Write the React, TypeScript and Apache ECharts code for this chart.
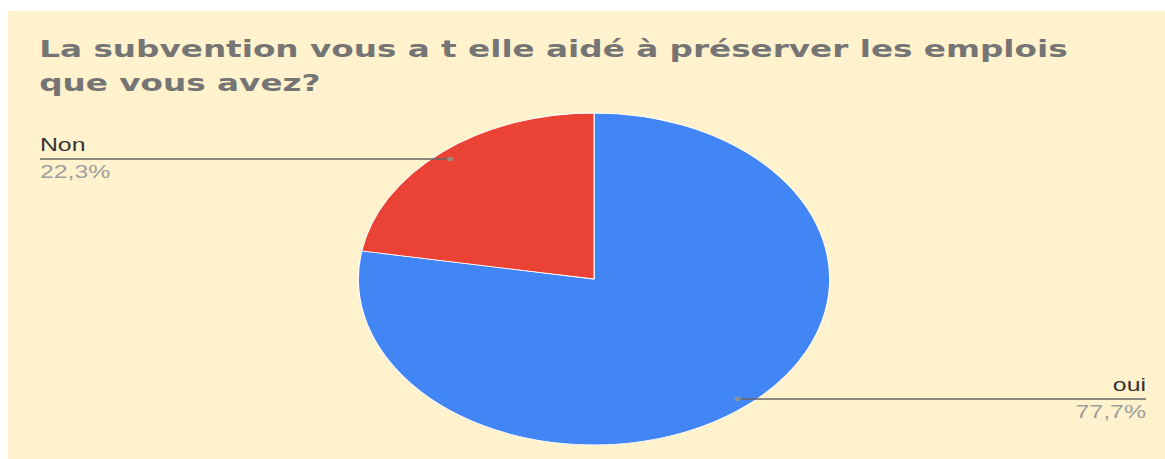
import React, { useEffect, useRef } from "react";
import * as echarts from "echarts";

const TITLE_LINES = ["La subvention vous a t elle aidé à préserver les emplois", "que vous avez?"];
const CATEGORIES = ["oui", "Non"];
const VALUES = [77.7, 22.3];
const COLORS = ["#4285F4", "#EA4335"];

const OUT_W = 1157;
const OUT_H = 448;
const INNER_W = 815;
const SX = OUT_W / INNER_W;

export default function App() {
  const ref = useRef<HTMLDivElement>(null);
  useEffect(() => {
    if (!ref.current) return;
    const chart = echarts.init(ref.current, undefined, { renderer: "svg" });
    const cx = 412.8;
    const cy = 268;
    const R = 166;
    const RL = 157;
    const EDGE_L = 22.5;
    const EDGE_R = 801.6;
    const total = VALUES.reduce((a, b) => a + b, 0);
    const mids: number[] = [];
    let acc = 0;
    VALUES.forEach((v) => {
      mids.push(((acc + v / 2) / total) * 100);
      acc += v;
    });
    const pieData = CATEGORIES.map((c, i) => ({ name: c, value: VALUES[i] }));
    chart.setOption({
      animation: false,
      backgroundColor: "#FFF2CC",
      title: {
        text: TITLE_LINES.join("\n"),
        left: 22,
        top: 21,
        padding: 0,
        textStyle: {
          fontFamily: "DejaVu Sans",
          fontWeight: "bold",
          fontSize: 23,
          lineHeight: 34,
          color: "#757575",
        },
      },
      polar: { center: [cx, cy], radius: R },
      angleAxis: { type: "value", min: 0, max: 100, startAngle: 90, clockwise: true, show: false },
      radiusAxis: { type: "value", min: 0, max: 1, show: false },
      series: [
        {
          type: "pie",
          center: [cx, cy],
          radius: R,
          startAngle: 90,
          clockwise: true,
          silent: true,
          data: pieData.map((d, i) => ({ ...d, itemStyle: { color: COLORS[i] } })),
          itemStyle: { borderColor: "#ffffff", borderWidth: 0.8 },
          label: { show: false },
          labelLine: { show: false },
          z: 1,
        },
        {
          type: "pie",
          center: [cx, cy],
          radius: RL,
          startAngle: 90,
          clockwise: true,
          silent: true,
          data: pieData,
          itemStyle: { color: "rgba(0,0,0,0)" },
          label: {
            show: true,
            position: "outside",
            formatter: (p: any) =>
              `{n|${p.name}}\n{v|${Number(p.value).toFixed(1).replace(".", ",")}%}`,
            rich: {
              n: { fontFamily: "Liberation Sans, Arial", fontSize: 17.5, lineHeight: 27, color: "#333333" },
              v: { fontFamily: "Liberation Sans, Arial", fontSize: 17.5, lineHeight: 27, color: "#9E9E9E" },
            },
          },
          labelLine: {
            show: true,
            length: 0,
            length2: 20,
            lineStyle: { color: "#666666", width: 1.4 },
          },
          labelLayout: (params: any) => {
            const pts = params.labelLinePoints;
            if (!pts) return {};
            const sx = pts[0][0];
            const sy = pts[0][1];
            const left = pts[2][0] < sx;
            const ex = left ? EDGE_L : EDGE_R;
            return {
              x: ex,
              y: sy,
              align: left ? "left" : "right",
              verticalAlign: "middle",
              labelLinePoints: [
                [sx, sy],
                [sx, sy],
                [ex, sy],
              ],
            };
          },
          z: 2,
        },
        {
          type: "scatter",
          coordinateSystem: "polar",
          silent: true,
          symbol: "circle",
          symbolSize: 4.5,
          itemStyle: { color: "#9A9A88" },
          data: mids.map((m) => [RL / R, m]),
          z: 5,
        },
      ],
    });
    return () => chart.dispose();
  }, []);
  return (
    <div
      style={{
        position: "absolute",
        left: 8,
        top: 11,
        width: OUT_W,
        height: OUT_H,
        overflow: "hidden",
        background: "#FFF2CC",
      }}
    >
      <div
        ref={ref}
        style={{
          width: INNER_W,
          height: OUT_H,
          transform: `scaleX(${SX})`,
          transformOrigin: "0 0",
        }}
      />
    </div>
  );
}
